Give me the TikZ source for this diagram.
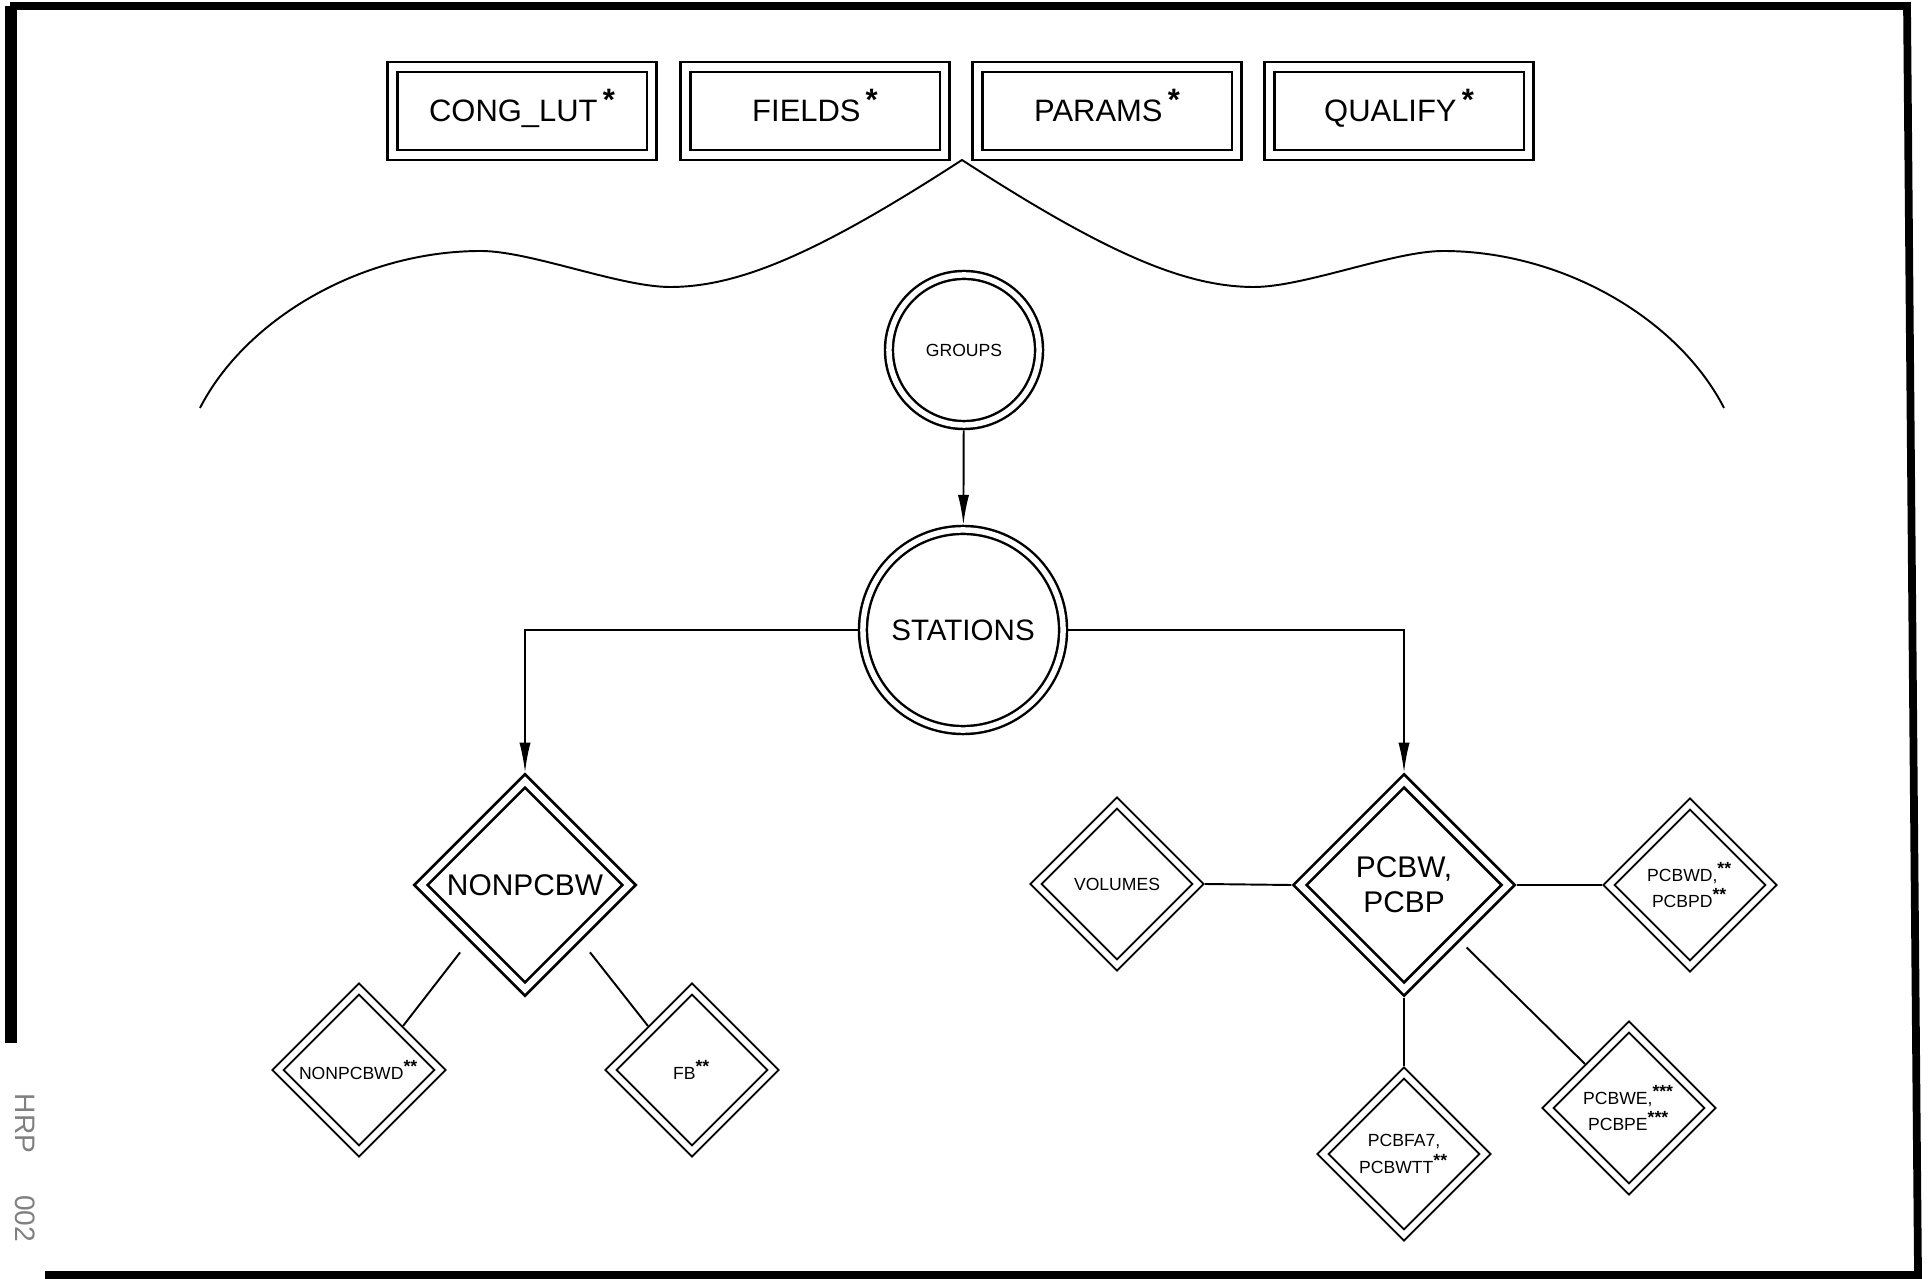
\documentclass[tikz,border=0pt]{standalone}
\usepackage{fontspec}
\setmainfont{Liberation Sans}
\usetikzlibrary{shapes.geometric,arrows.meta}
\newcommand{\estrela}{\,\raisebox{.35em}[0pt][0pt]{\bfseries *}}
\newcommand{\marca}[1]{\textsuperscript{\bfseries #1}}
\tikzset{
	caixa/.style={draw, double, line width=0.63pt, double distance=2.2pt, minimum width=2.59cm, minimum height=0.88cm, inner sep=0pt, text depth=0pt, font=\fontsize{8.8}{10}\selectfont},
	circulo/.style={circle, draw, double, line width=0.7pt, double distance=1.56pt, inner sep=0pt, outer sep=1.5pt},
	losango/.style={diamond, aspect=1, draw, double, line width=0.77pt, double distance=1.85pt, inner sep=0pt, outer sep=1.7pt, minimum size=2.13cm, align=center, font=\fontsize{8.5}{10}\selectfont},
	losangop/.style={diamond, aspect=1, draw, double, line width=0.57pt, double distance=1.65pt, inner sep=0pt, outer sep=1.4pt, minimum size=1.66cm, align=center, font=\fontsize{5}{7.5}\selectfont},
	liga/.style={line width=0.55pt},
	seta/.style={liga, -{Latex[length=8.5pt,width=3.2pt]}},
}
\begin{document}
\begin{tikzpicture}[x=0.01cm, y=-0.01cm]
			      % Diagrama GROUPS / STATIONS com as tabelas ligadas
			      \fill[white] (0,0) rectangle (1931,1277);
			      \draw[line width=2.2pt] (10,6) -- (1907,6) -- (1918,1275) -- (45,1275);
			      \draw[line width=3.4pt] (11,6) -- (11,1043);
			      \node[gray, rotate=-90, font=\fontsize{8}{9}\selectfont] (hrp) at (25,1168) {HRP\hspace{12pt}002};
			      \node[caixa] (cong) at (522,111) {CONG\_LUT\estrela};
			      \node[caixa] (fields) at (815,111) {FIELDS\estrela};
			      \node[caixa] (params) at (1107,111) {PARAMS\estrela};
			      \node[caixa] (qualify) at (1399,111) {QUALIFY\estrela};
			      \draw[liga] (200,408) .. controls (245,320) and (360,251) .. (481,251)
			        .. controls (530,251) and (620,287) .. (670,287)
			        .. controls (740,287) and (820,252) .. (962,160)
			        .. controls (1104,252) and (1184,287) .. (1254,287)
			        .. controls (1304,287) and (1394,251) .. (1443,251)
			        .. controls (1564,251) and (1679,320) .. (1724,408);
			      \node[circulo, minimum size=1.5cm, font=\fontsize{5}{6}\selectfont] (groups) at (964,350) {GROUPS};
			      \node[circulo, minimum size=2cm, font=\fontsize{8.4}{10}\selectfont] (stations) at (963,630) {STATIONS};
			      \node[losango] (npw) at (525,885) {NONPCBW};
			      \node[losango] (pcbw) at (1404,885) {PCBW,\\PCBP};
			      \node[losangop] (vol) at (1117,884) {VOLUMES};
			      \node[losangop] (pcbwd) at (1690,885) {PCBWD,\marca{**}\\PCBPD\marca{**}};
			      \node[losangop] (pcbfa) at (1404,1154) {PCBFA7,\\PCBWTT\marca{**}};
			      \node[losangop] (pcbwe) at (1629,1108) {PCBWE,\marca{***}\\PCBPE\marca{***}};
			      \node[losangop] (npwd) at (359,1070) {NONPCBWD\marca{**}};
			      \node[losangop] (fb) at (692,1070) {FB\marca{**}};
			      \draw[seta] (groups) -- (stations);
			      \draw[seta] (stations.west) -| (npw.north);
			      \draw[seta] (stations.east) -| (pcbw.north);
			      \draw[liga] (vol.east) -- (pcbw.west);
			      \draw[liga] (pcbw.east) -- (pcbwd.west);
			      \draw[liga] (pcbw.south) -- (pcbfa.north);
			      \draw[liga, shorten <=2.5pt] (pcbw.south east) -- (pcbwe.north west);
			      \draw[liga, shorten <=4pt] (npw.south west) -- (npwd.north east);
			      \draw[liga, shorten <=4pt] (npw.south east) -- (fb.north west);
		      \end{tikzpicture}
\end{document}
